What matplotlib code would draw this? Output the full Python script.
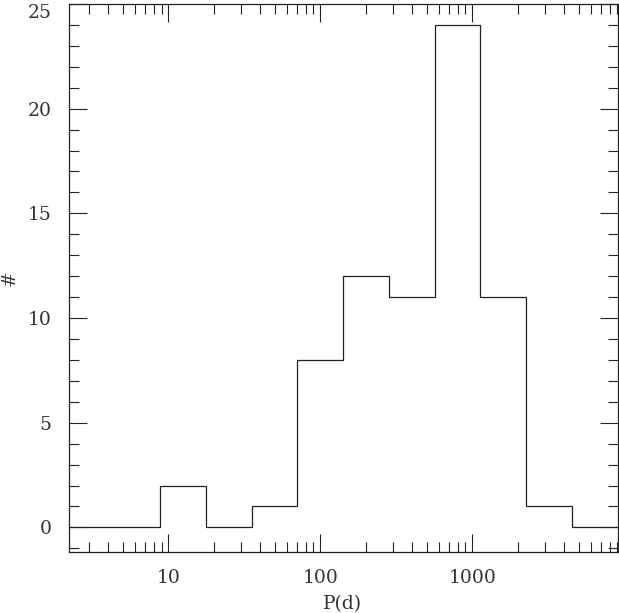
import numpy as np
import matplotlib
matplotlib.use('Agg')
import matplotlib.pyplot as plt
from matplotlib.ticker import FixedLocator, FixedFormatter, LogLocator, NullFormatter, MultipleLocator

# bin edges in days (factor of 2 per bin) and counts per bin
edges = [2.2, 4.4, 8.8, 17.6, 35.2, 70.4, 140.8, 281.6, 563.2, 1126.4, 2252.8, 4505.6, 9011.2]
counts = [0, 0, 2, 0, 1, 8, 12, 11, 24, 11, 1, 0]

xticks = [10, 100, 1000]
xlabels = ['10', '100', '1000']
yticks = [0, 5, 10, 15, 20, 25]

plt.rcParams['font.family'] = ['DejaVu Serif']

fig = plt.figure(figsize=(6.19, 6.13), dpi=100)
ax = fig.add_axes([0.1107, 0.0987, 0.9976 - 0.1107, 0.9935 - 0.0987])

ax.stairs(counts, edges, baseline=None, color='#222222', lw=0.9)

ax.set_xscale('log')
ax.set_xlim(edges[0], edges[-1])
ax.set_ylim(-1.2, 25)

ax.xaxis.set_major_locator(FixedLocator(xticks))
ax.xaxis.set_major_formatter(FixedFormatter(xlabels))
ax.xaxis.set_minor_locator(LogLocator(base=10, subs=np.arange(2, 10)))
ax.xaxis.set_minor_formatter(NullFormatter())
ax.yaxis.set_major_locator(FixedLocator(yticks))
ax.yaxis.set_minor_locator(MultipleLocator(1))

ax.tick_params(which='both', direction='in', top=True, right=True, width=0.8,
               color='#222222', labelcolor='#333333')
ax.tick_params(which='major', length=13, labelsize=13.5, pad=12)
ax.tick_params(which='minor', length=7)
for s in ax.spines.values():
    s.set_linewidth(0.9)
    s.set_color('#222222')

# top label sits just below the frame edge so it is not clipped
ax.get_yticklabels()[-1].set_va('top')

ax.set_xlabel('P(d)', fontsize=13.5, labelpad=6, color='#333333')
ax.set_ylabel('#', fontsize=13.5, labelpad=7, color='#333333')

fig.savefig('out.png', dpi=100)
